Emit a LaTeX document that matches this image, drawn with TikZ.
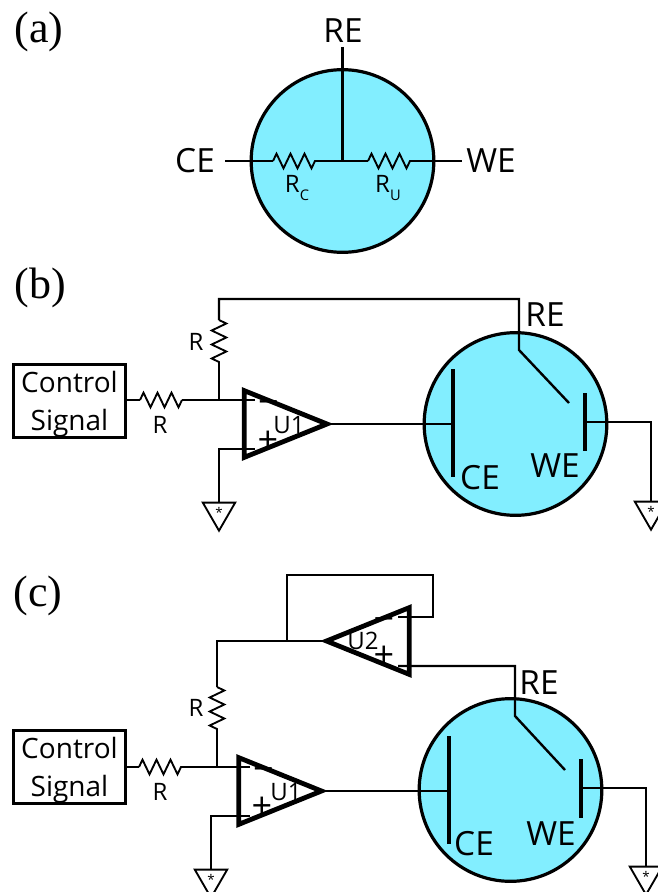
\documentclass[tikz,border=0pt]{standalone}
\usepackage{fontspec}
\setmainfont{Open Sans}
\newfontfamily\panelfont{Liberation Serif}
\usetikzlibrary{shapes.geometric, decorations.pathmorphing}
\definecolor{cellblue}{HTML}{82EEFF}
\tikzset{
  wire/.style={line width=1.8pt, line join=miter},
  res/.style={line width=1.4pt, decorate, decoration={zigzag, segment length=10.5pt, amplitude=5.5pt}},
  cell/.style={circle, draw, fill=cellblue, line width=2.4pt, minimum size=137pt, inner sep=0pt},
  plate/.style={line width=2.4pt},
  opamp/.style={isosceles triangle, isosceles triangle stretches, draw, line width=3.6pt, inner sep=0pt, outer sep=0pt, minimum width=50pt, minimum height=62pt, anchor=apex},
  gnd/.style={regular polygon, regular polygon sides=3, shape border rotate=180, draw, line width=1.4pt, inner sep=0pt, outer sep=0pt, minimum size=28pt, font=\fontsize{10}{10}\selectfont},
  ctrl/.style={draw, line width=2.4pt, minimum width=84pt, minimum height=55pt, inner sep=0pt, align=center, font=\fontsize{21}{29}\selectfont},
  elec/.style={font=\fontsize{25}{25}\selectfont, inner sep=0pt},
  rlab/.style={font=\fontsize{18}{18}\selectfont, inner sep=0pt},
  sign/.style={font=\fontsize{27}{27}\selectfont, inner sep=0pt},
  panel/.style={font=\panelfont\fontsize{33}{33}\selectfont, inner sep=0pt}
}
\begin{document}
\begin{tikzpicture}[x=0.75pt, y=-0.75pt]
  \useasboundingbox (0,0) rectangle (657,892);

  \node (laba) [panel] at (39,32) {(a)};
  \node (cella) [cell] at (342.5,161) {};
  \node (rea) [elec] at (343,31) {RE};
  \node (cea) [elec] at (195,161) {CE};
  \node (wea) [elec] at (491,161) {WE};
  \coordinate (rtopa) at (342.5,47);
  \coordinate (mida) at (342.5,161);
  \coordinate (lfta) at (225,161);
  \coordinate (rgta) at (462,161);
  \coordinate (rcl) at (273,161);
  \coordinate (rcr) at (317,161);
  \coordinate (rul) at (368,161);
  \coordinate (rur) at (412,161);
  \draw [wire] (rtopa) -- (mida);
  \draw [wire] (lfta) -- (rcl);
  \draw [res] (rcl) -- (rcr);
  \draw [wire] (rcr) -- (rul);
  \draw [res] (rul) -- (rur);
  \draw [wire] (rur) -- (rgta);
  \node (rca) [rlab] at (297,188) {R\raisebox{-6pt}{\fontsize{11}{11}\selectfont C}};
  \node (rua) [rlab] at (388,188) {R\raisebox{-6pt}{\fontsize{11}{11}\selectfont U}};

  \node (labb) [panel] at (40,288) {(b)};
  \node (ctrlb) [ctrl] at (69.5,401) {\rule{0pt}{21pt}Control\\Signal};
  \node (cellb) [cell] at (515.5,424) {};
  \node (uoneb) [opamp] at (327,424) {};
  \node (gndlb) [gnd] at (219,512) {*};
  \node (gndrb) [gnd] at (651,511) {*};
  \coordinate (rinlb) at (140,400);
  \coordinate (rinrb) at (182,400);
  \coordinate (juncb) at (219,400);
  \coordinate (minusb) at (255,400);
  \coordinate (plusb) at (255,449);
  \coordinate (rfbot) at (219,363);
  \coordinate (rftop) at (219,320);
  \coordinate (cornb) at (219,299);
  \coordinate (retopb) at (519,299);
  \coordinate (rekneeb) at (519,350);
  \coordinate (retipb) at (569,403);
  \coordinate (ceptb) at (453,424);
  \coordinate (weptb) at (585,422);
  \coordinate (wecornb) at (651,422);
  \draw [wire] (ctrlb.east |- rinlb) -- (rinlb);
  \draw [res] (rinlb) -- (rinrb);
  \draw [wire] (rinrb) -- (minusb);
  \draw [wire] (juncb) -- (rfbot);
  \draw [res] (rftop) -- (rfbot);
  \draw [wire] (rftop) -- (cornb) -- (retopb) -- (rekneeb) -- (retipb);
  \draw [wire] (plusb) -| (gndlb.side 2);
  \draw [wire] (uoneb.apex) -- (ceptb);
  \draw [plate] (453,369) -- (453,477);
  \draw [plate] (585,393) -- (585,451);
  \draw [wire] (weptb) -- (wecornb) -- (gndrb.side 2);
  \node (rinb) [rlab] at (160,425) {R};
  \node (rfb) [rlab] at (196,342) {R};
  \node (uonelabb) [rlab] at (289,425) {U1};
  \node (minuslabb) [sign] at (268.5,404) {\vphantom{+}−};
  \node (pluslabb) [sign] at (268,442) {+};
  \node (reb) [elec] at (545,315) {RE};
  \node (ceb) [elec] at (480,478) {CE};
  \node (web) [elec] at (555,466) {WE};

  \node (labc) [panel] at (38,596) {(c)};
  \node (ctrlc) [ctrl] at (69.5,767) {\rule{0pt}{21pt}Control\\Signal};
  \node (cellc) [cell] at (510.5,790) {};
  \node (uonec) [opamp] at (321.5,791) {};
  \node (utwoc) [opamp, shape border rotate=180] at (326.5,641) {};
  \node (gndlc) [gnd] at (211,879) {*};
  \node (gndrc) [gnd] at (646,876) {*};
  \coordinate (rinlc) at (139,767);
  \coordinate (rinrc) at (182,767);
  \coordinate (juncc) at (217,767);
  \coordinate (minusc) at (250,767);
  \coordinate (plusc) at (250,816);
  \coordinate (rfbotc) at (217,730);
  \coordinate (rftopc) at (217,687);
  \coordinate (cornc) at (217,641);
  \coordinate (loopc) at (287,641);
  \coordinate (looptl) at (287,575);
  \coordinate (looptr) at (433,575);
  \coordinate (loopbr) at (433,617);
  \coordinate (utwominus) at (398,617);
  \coordinate (utwoplus) at (398,666);
  \coordinate (recorn) at (515,666);
  \coordinate (rekneec) at (515,716);
  \coordinate (retipc) at (565,770);
  \coordinate (ceptc) at (449,791);
  \coordinate (weptc) at (581,788);
  \coordinate (wecornc) at (646,788);
  \draw [wire] (ctrlc.east |- rinlc) -- (rinlc);
  \draw [res] (rinlc) -- (rinrc);
  \draw [wire] (rinrc) -- (minusc);
  \draw [wire] (juncc) -- (rfbotc);
  \draw [res] (rftopc) -- (rfbotc);
  \draw [wire] (rftopc) -- (cornc) -- (utwoc.apex);
  \draw [wire] (loopc) -- (looptl) -- (looptr) -- (loopbr) -- (utwominus);
  \draw [wire] (utwoplus) -- (recorn) -- (rekneec) -- (retipc);
  \draw [wire] (plusc) -| (gndlc.side 2);
  \draw [wire] (uonec.apex) -- (ceptc);
  \draw [plate] (449,736) -- (449,844);
  \draw [plate] (581,759) -- (581,818);
  \draw [wire] (weptc) -- (wecornc) -- (gndrc.side 2);
  \node (rinc) [rlab] at (160,792) {R};
  \node (rfc) [rlab] at (196,708) {R};
  \node (uonelabc) [rlab] at (286,792) {U1};
  \node (utwolabc) [rlab] at (363,641) {U2};
  \node (minuslabc) [sign] at (263.5,771) {\vphantom{+}−};
  \node (pluslabc) [sign] at (262,808) {+};
  \node (minuslabu) [sign] at (384,621) {\vphantom{+}−};
  \node (pluslabu) [sign] at (384,657) {+};
  \node (rec) [elec] at (539,683) {RE};
  \node (cec) [elec] at (474,844) {CE};
  \node (wec) [elec] at (551,834) {WE};
\end{tikzpicture}
\end{document}
